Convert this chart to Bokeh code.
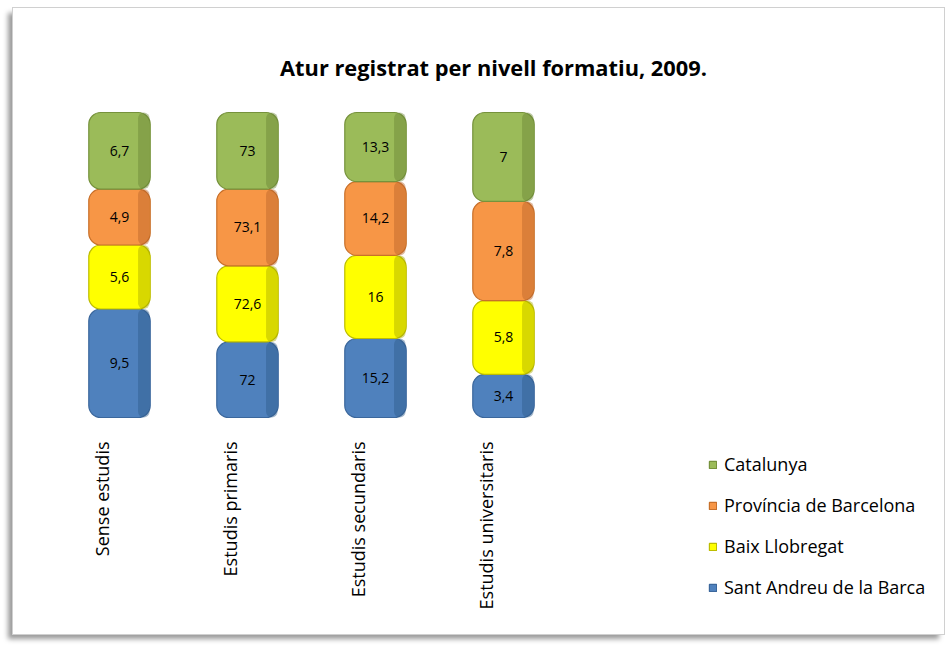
import math
from bokeh.plotting import figure
from bokeh.models import (ColumnDataSource, Range1d, Legend, LegendItem, Label, LabelSet)
from bokeh.transform import dodge
from bokeh.core.properties import value
from bokeh.embed import file_html
from bokeh.resources import INLINE

# ---- data ----
categories = ["Sense estudis", "Estudis primaris", "Estudis secundaris", "Estudis universitaris"]
series_names = ["Sant Andreu de la Barca", "Baix Llobregat", "Província de Barcelona", "Catalunya"]
sant_andreu = [9.5, 72, 15.2, 3.4]
baix_llobregat = [5.6, 72.6, 16, 5.8]
provincia = [4.9, 73.1, 14.2, 7.8]
catalunya = [6.7, 73, 13.3, 7]
title_text = "Atur registrat per nivell formatiu, 2009."

colors = ["#4F81BD", "#FFFF00", "#F79646", "#9BBB59"]
edge_colors = ["#3B679C", "#BDBD00", "#C8702A", "#76923C"]
shade_colors = ["#2F5A8A", "#A8A800", "#B8642A", "#6A8535"]

series = [sant_andreu, baix_llobregat, provincia, catalunya]
keys = ["s0", "s1", "s2", "s3"]
n = len(categories)
idx = list(range(n))
totals = [sum(s[i] for s in series) for i in idx]

data = {"x": idx, "cat": categories, "ly": [0.0] * n}
for k, s in zip(keys, series):
    data[k] = [v / t for v, t in zip(s, totals)]
source = ColumnDataSource(data)

# label positions (middle of each stacked segment)
lab_x, lab_y, lab_t = [], [], []
for i in idx:
    base = 0.0
    for s in series:
        frac = s[i] / totals[i]
        lab_x.append(i)
        lab_y.append(base + frac / 2)
        lab_t.append(f"{s[i]:g}".replace(".", ","))
        base += frac
lab_source = ColumnDataSource(dict(x=lab_x, y=lab_y, t=lab_t))

W, H = 933, 628
PX_X, X0 = 128.0, 106.0     # pixels per category, pixel of first category centre
PX_Y, Y0 = 305.0, 409.0     # pixels for 100 %, pixel row of the baseline

p = figure(width=W, height=H,
           x_range=Range1d(-X0 / PX_X, (W - X0) / PX_X),
           y_range=Range1d(-(H - Y0) / PX_Y, Y0 / PX_Y),
           output_backend="svg", toolbar_location=None,
           x_axis_location=None, y_axis_location=None, min_border=0)
p.outline_line_color = None
p.grid.visible = False
p.background_fill_color = "white"
p.border_fill_color = "white"
p.styles = {"margin-left": "12px", "margin-top": "7px",
            "border": "1px solid #d0d0d0",
            "box-shadow": "-5px 5px 5px -1px #9a9a9a"}

renderers = p.vbar_stack(keys, x="x", width=0.48, source=source,
                         fill_color=colors, line_color=edge_colors, line_width=1.2,
                         border_radius=12)
# darker right side to mimic the bevelled 3-D look
p.vbar_stack(keys, x=dodge("x", 0.19, range=p.x_range), width=0.09, source=source,
             fill_color=shade_colors, fill_alpha=0.45, line_color=None,
             border_radius=6)

labels = LabelSet(x="x", y="y", text="t", source=lab_source, text_align="center",
                  text_baseline="middle", text_font=value("Open Sans"),
                  text_font_size=value("14px"), text_color="black")
p.add_layout(labels)

# category labels, rotated, below the columns
p.text(x="x", y="ly", text="cat", source=source, angle=math.pi / 2,
       x_offset=-18, y_offset=24, text_align="right", text_baseline="middle",
       text_font=value("Open Sans"), text_font_size="18px", text_color="black")

title = Label(x=480, y=569, x_units="screen", y_units="screen", text=title_text,
              text_align="center", text_baseline="middle", text_font="Open Sans",
              text_font_style="bold", text_font_size="21.8px", text_color="black")
p.add_layout(title)

items = [LegendItem(label=nm, renderers=[r]) for nm, r in zip(series_names, renderers)][::-1]
legend = Legend(items=items, location=(695, 37), label_text_font="Open Sans",
                label_text_font_size="18px", label_text_color="black",
                glyph_width=9, glyph_height=9,
                label_height=20, label_standoff=7, spacing=17, padding=0, margin=0,
                border_line_color=None, background_fill_alpha=0)
p.add_layout(legend, "center")

open("out.html", "w").write(file_html(p, INLINE))
